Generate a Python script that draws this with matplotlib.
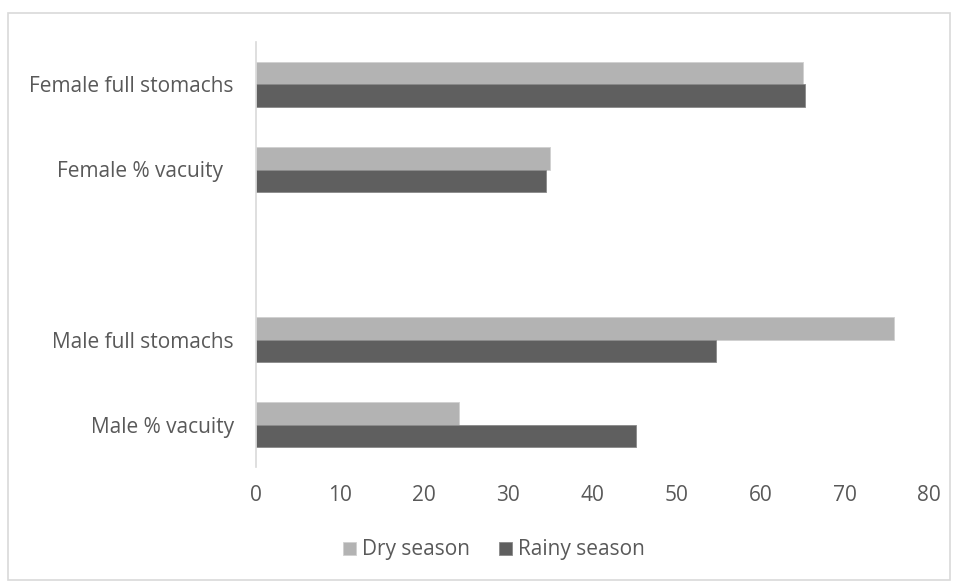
import matplotlib
matplotlib.use("Agg")
import matplotlib.pyplot as plt
import numpy as np
from matplotlib.patches import Rectangle

# Categories listed bottom to top; the blank entry leaves a gap between sexes
categories = ["Male % vacuity", "Male full stomachs", "", "Female % vacuity  ", "Female full stomachs"]
dry_season = [24.1, 75.8, np.nan, 34.9, 65.0]
rainy_season = [45.2, 54.7, np.nan, 34.5, 65.3]
x_ticks = [0, 10, 20, 30, 40, 50, 60, 70, 80]

plt.rcParams["font.family"] = ["Open Sans", "DejaVu Sans"]
text_color = "#595959"
dry_color = "#b3b3b3"
rainy_color = "#5f5f5f"

fig = plt.figure(figsize=(9.58, 5.86), dpi=100)
fig.patches.append(Rectangle((8 / 958, 1 - 580 / 586), 942 / 958, 567 / 586,
                             transform=fig.transFigure, fill=False,
                             edgecolor="#d9d9d9", linewidth=1.2))

ax = fig.add_axes([256 / 958, 1 - 467 / 586, 673 / 958, 425 / 586])

y = np.arange(len(categories))
h = 0.26
ax.barh(y + h / 2, dry_season, height=h, color=dry_color, label="Dry season",
        edgecolor="#d0d0d0", linewidth=0.6)
ax.barh(y - h / 2, rainy_season, height=h, color=rainy_color, label="Rainy season",
        edgecolor="#8a8a8a", linewidth=0.6)

ax.set_xlim(0, 80)
ax.set_ylim(-0.5, len(categories) - 0.5)
ax.set_xticks(x_ticks)
ax.set_xticklabels([str(t) for t in x_ticks])
ax.set_yticks(y)
ax.set_yticklabels(categories)
ax.tick_params(axis="both", length=0, colors=text_color, labelsize=15)
ax.tick_params(axis="x", pad=13)
ax.tick_params(axis="y", pad=16)

for side in ["top", "right", "bottom"]:
    ax.spines[side].set_visible(False)
ax.spines["left"].set_color("#d9d9d9")
ax.spines["left"].set_linewidth(1.2)

leg = fig.legend(loc="center", bbox_to_anchor=(494 / 958, 1 - 550 / 586), ncol=2,
                 frameon=False, fontsize=15, handlelength=0.6, handleheight=0.6,
                 handletextpad=0.3, columnspacing=1.4)
for t in leg.get_texts():
    t.set_color(text_color)

fig.savefig("out.png", dpi=100)
